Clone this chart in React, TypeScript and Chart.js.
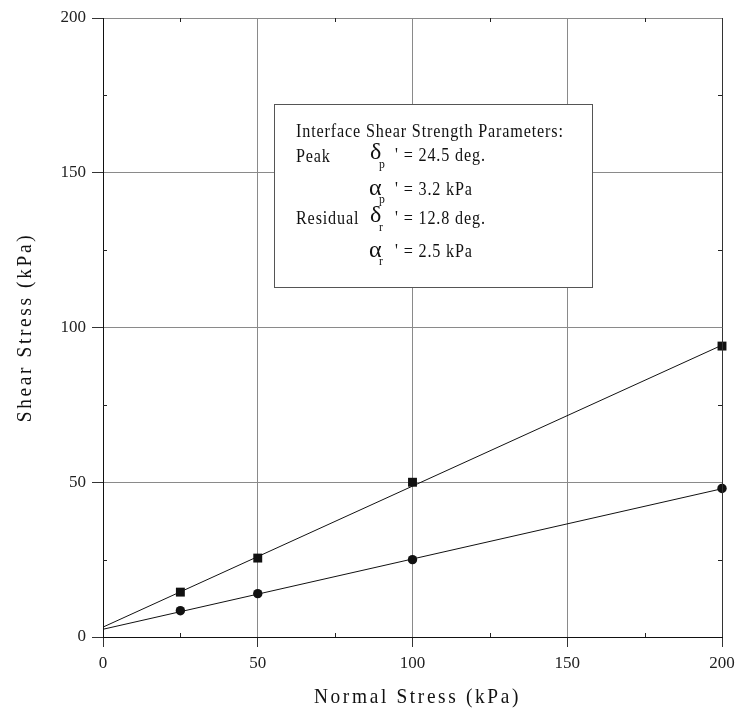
import React, { useEffect, useRef } from "react";
import { Chart, registerables } from "chart.js";

Chart.register(...registerables);

const pointX = [25, 50, 100, 200];
const peakY = [14.5, 25.5, 50, 94];
const residualY = [8.5, 14, 25, 48];
const fitX = [0, 200];
const peakFitY = [3.2, 94.3];
const residualFitY = [2.5, 47.9];
const minorTicks = [25, 75, 125, 175];
const xTitle = "Normal Stress (kPa)";
const yTitle = "Shear Stress (kPa)";
const boxTitle = "Interface Shear Strength Parameters:";

const SERIF = "'Liberation Serif', 'Times New Roman', serif";
const INK = "#111";

function txt(ctx: CanvasRenderingContext2D, s: string, x: number, y: number, size: number, sx = 0.85, ls = 1) {
  ctx.save();
  ctx.translate(x, y);
  ctx.scale(sx, 1);
  ctx.font = `${size}px ${SERIF}`;
  (ctx as any).letterSpacing = `${ls}px`;
  ctx.fillStyle = INK;
  ctx.textAlign = "left";
  ctx.textBaseline = "alphabetic";
  ctx.fillText(s, 0, 0);
  ctx.restore();
}

const decorPlugin = {
  id: "decor",
  afterDraw(chart: any) {
    const ctx: CanvasRenderingContext2D = chart.ctx;
    const xs = chart.scales.x;
    const ys = chart.scales.y;
    const { left, right, top, bottom } = chart.chartArea;
    ctx.save();
    // right border
    ctx.strokeStyle = "#333";
    ctx.lineWidth = 1;
    ctx.beginPath();
    ctx.moveTo(Math.round(right) + 0.5, top);
    ctx.lineTo(Math.round(right) + 0.5, bottom);
    ctx.stroke();
    // minor ticks
    ctx.strokeStyle = "#222";
    ctx.beginPath();
    for (const v of minorTicks) {
      const px = Math.round(xs.getPixelForValue(v)) + 0.5;
      ctx.moveTo(px, bottom);
      ctx.lineTo(px, bottom - 4);
      ctx.moveTo(px, top);
      ctx.lineTo(px, top + 4);
      const py = Math.round(ys.getPixelForValue(v)) + 0.5;
      ctx.moveTo(left, py);
      ctx.lineTo(left + 4, py);
      ctx.moveTo(right, py);
      ctx.lineTo(right - 4, py);
    }
    ctx.stroke();

    // axis titles
    ctx.save();
    ctx.font = `22px ${SERIF}`;
    (ctx as any).letterSpacing = "3px";
    ctx.fillStyle = INK;
    ctx.textAlign = "center";
    ctx.textBaseline = "alphabetic";
    ctx.translate((left + right) / 2 + 5, 703);
    ctx.scale(0.88, 1);
    ctx.fillText(xTitle, 0, 0);
    ctx.restore();

    ctx.save();
    ctx.font = `22px ${SERIF}`;
    (ctx as any).letterSpacing = "3px";
    ctx.fillStyle = INK;
    ctx.textAlign = "center";
    ctx.textBaseline = "alphabetic";
    ctx.translate(31, (top + bottom) / 2);
    ctx.rotate(-Math.PI / 2);
    ctx.scale(0.88, 1);
    ctx.fillText(yTitle, 0, 0);
    ctx.restore();

    // text box
    ctx.fillStyle = "#ffffff";
    ctx.fillRect(274, 104, 318, 183);
    ctx.strokeStyle = "#555";
    ctx.strokeRect(274.5, 104.5, 318, 183);

    txt(ctx, boxTitle, 296, 137, 19);
    txt(ctx, "Peak", 296, 162, 19);
    txt(ctx, "δ", 370, 159, 24, 1, 0);
    txt(ctx, "p", 379, 168, 13, 0.9, 0);
    txt(ctx, "' = 24.5 deg.", 395, 161, 19);
    txt(ctx, "α", 369, 195, 24, 1, 0);
    txt(ctx, "p", 379, 203, 13, 0.9, 0);
    txt(ctx, "' = 3.2 kPa", 395, 195, 19);
    txt(ctx, "Residual", 296, 224, 19);
    txt(ctx, "δ", 370, 222, 24, 1, 0);
    txt(ctx, "r", 379, 231, 13, 0.9, 0);
    txt(ctx, "' = 12.8 deg.", 395, 224, 19);
    txt(ctx, "α", 369, 257, 24, 1, 0);
    txt(ctx, "r", 379, 265, 13, 0.9, 0);
    txt(ctx, "' = 2.5 kPa", 395, 257, 19);
    ctx.restore();
  },
};

export default function App() {
  const ref = useRef<HTMLCanvasElement | null>(null);
  useEffect(() => {
    document.body.style.margin = "0";
    if (!ref.current) return;
    const toPts = (xs: number[], ys: number[]) => xs.map((x, i) => ({ x, y: ys[i] }));
    const chart = new Chart(ref.current, {
      type: "scatter",
      data: {
        datasets: [
          {
            label: "Peak fit",
            data: toPts(fitX, peakFitY),
            showLine: true,
            borderColor: "#111",
            borderWidth: 1,
            pointRadius: 0,
          },
          {
            label: "Residual fit",
            data: toPts(fitX, residualFitY),
            showLine: true,
            borderColor: "#111",
            borderWidth: 1,
            pointRadius: 0,
          },
          {
            label: "Peak",
            data: toPts(pointX, peakY),
            pointStyle: "rect",
            pointRadius: 6.3,
            backgroundColor: "#111",
            borderColor: "#111",
            borderWidth: 0,
            clip: false,
          },
          {
            label: "Residual",
            data: toPts(pointX, residualY),
            pointStyle: "circle",
            pointRadius: 4.7,
            backgroundColor: "#111",
            borderColor: "#111",
            borderWidth: 0,
            clip: false,
          },
        ],
      },
      options: {
        responsive: false,
        animation: false,
        layout: { padding: { top: 18, right: 13, left: 0, bottom: 0 } },
        plugins: { legend: { display: false }, tooltip: { enabled: false }, title: { display: false } },
        scales: {
          x: {
            type: "linear",
            min: 0,
            max: 200,
            afterFit: (s: any) => {
              s.height = 74;
              s.paddingRight = 0;
              s.paddingLeft = 0;
            },
            ticks: {
              stepSize: 50,
              color: "#222",
              font: { family: SERIF, size: 17 },
              padding: 6,
              maxRotation: 0,
            },
            grid: { color: "#8a8a8a", lineWidth: 1, tickLength: 10, tickColor: "#333" },
            border: { color: "#111", width: 1 },
          },
          y: {
            type: "linear",
            min: 0,
            max: 200,
            afterFit: (s: any) => {
              s.width = 103;
              s.paddingTop = 0;
              s.paddingBottom = 0;
            },
            ticks: {
              stepSize: 50,
              color: "#222",
              font: { family: SERIF, size: 17 },
              padding: 6,
            },
            grid: { color: "#8a8a8a", lineWidth: 1, tickLength: 11, tickColor: "#333" },
            border: { color: "#111", width: 1 },
          },
        },
      },
      plugins: [decorPlugin],
    } as any);
    return () => chart.destroy();
  }, []);
  return (
    <div style={{ width: 735, height: 711 }}>
      <canvas ref={ref} width={735} height={711} style={{ display: "block" }} />
    </div>
  );
}
